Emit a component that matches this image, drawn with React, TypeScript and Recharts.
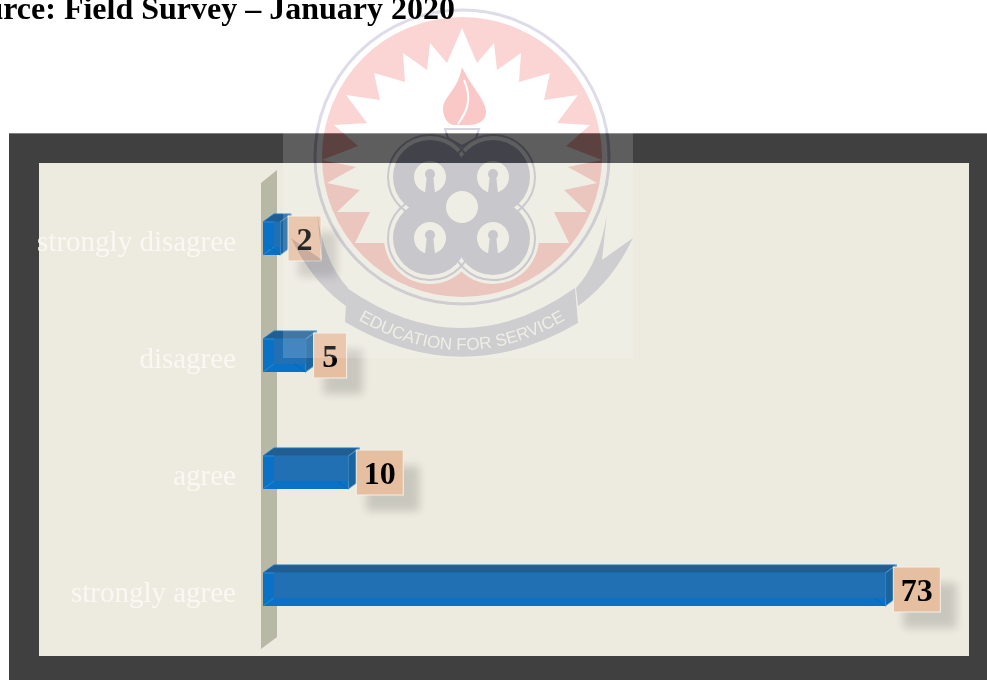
import { BarChart, Bar, XAxis, YAxis, LabelList } from "recharts";

const categories = ["strongly disagree", "disagree", "agree", "strongly agree"];
const values = [2, 5, 10, 73];
const rows = categories.map((name, i) => ({ name, value: values[i] }));

const SERIF = '"Liberation Serif", serif';
const DX = 11;
const DY = 8;

// half of the sunburst in the crest, mirrored around the centre
const STAR_HALF = [
  [462, 28], [447, 63], [430, 43], [427, 70], [403, 53], [405, 82], [374, 73], [380, 100],
  [346, 95], [367, 123], [334, 125], [358, 146], [322, 160], [356, 167], [327, 183], [360, 190],
  [337, 212], [370, 212], [355, 243],
];
const starPoints = [...STAR_HALF, ...[...STAR_HALF].reverse().map(([x, y]) => [924 - x, y])]
  .map((p) => p.join(","))
  .join(" ");
const LOBES = [
  [430, 177],
  [493, 177],
  [430, 238],
  [493, 238],
];

function Bar3D({ x, y, width, height }: any) {
  const w = width;
  const h = height;
  const backTop = y - DY;
  return (
    <g>
      <rect x={x + DX} y={backTop} width={w} height={h} fill="#1f5f98" />
      <polygon
        points={`${x},${y} ${x + DX},${backTop} ${x + w + DX},${backTop} ${x + w},${y}`}
        fill="#225d92"
        stroke="#0e78c8"
        strokeWidth={1}
      />
      <polygon
        points={`${x + w},${y} ${x + w + DX},${backTop} ${x + w + DX},${backTop + h} ${x + w},${y + h}`}
        fill="#1a649f"
        stroke="#5c9bc8"
        strokeWidth={1}
      />
      <rect x={x} y={y} width={w} height={h} fill="#0a72c6" />
      <rect x={x + DX} y={y} width={Math.max(w - DX, 0)} height={h - DY} fill="#2270b4" />
      <line x1={x} y1={y} x2={x + DX} y2={y} stroke="#2b8ad2" />
      <line x1={x} y1={y + h} x2={x + DX} y2={y + h - DY} stroke="#2b8ad2" />
      <line x1={x + w} y1={y + h} x2={x + w - DX} y2={y + h - DY} stroke="#0b64ad" />
    </g>
  );
}

function ValueTag({ x, y, width, height, value }: any) {
  const tagW = String(value).length > 1 ? 47 : 33;
  const tagH = 45;
  const left = x + width + 8;
  const cy = y + height / 2;
  return (
    <g>
      <defs>
        <filter id="tagBlur" x="-30%" y="-30%" width="160%" height="160%">
          <feGaussianBlur stdDeviation="4" />
        </filter>
      </defs>
      <rect
        x={left + 10}
        y={cy - tagH / 2 + 16}
        width={tagW + 6}
        height={tagH}
        fill="#000"
        opacity={0.15}
        filter="url(#tagBlur)"
      />
      <rect
        x={left}
        y={cy - tagH / 2}
        width={tagW}
        height={tagH}
        fill="#e6bea0"
        stroke="#f5f0e8"
        strokeWidth={1}
      />
      <text
        x={left + tagW / 2}
        y={cy + 11}
        textAnchor="middle"
        fontFamily={SERIF}
        fontWeight="bold"
        fontSize={32}
        fill="#000"
      >
        {value}
      </text>
    </g>
  );
}

function CategoryTick({ y, payload }: any) {
  return (
    <text x={236} y={y + 12} textAnchor="end" fontFamily={SERIF} fontSize={29} fill="#f9f8f3">
      {payload.value}
    </text>
  );
}

function Crest({ band }: { band?: boolean }) {
  return (
    <svg
      width={987}
      height={680}
      style={{
        position: "absolute",
        left: 0,
        top: 0,
        mixBlendMode: "multiply",
        pointerEvents: "none",
        // second pass over the dark frame strip, where the crest reads darker
        clipPath: band ? "inset(133px 0 517px 0)" : undefined,
      }}
    >
      <circle cx={462} cy={157} r={147} fill="none" stroke="#dcdcea" strokeWidth={3} />
      <circle cx={462} cy={157} r={140} fill="#fbd4d4" />
      <polygon points={starPoints} fill="#fff" />
      {LOBES.map(([cx, cy]) => (
        <circle key={`w${cx}${cy}`} cx={cx} cy={cy} r={46} fill="#fff" />
      ))}
      <path d="M462 67 C470 85 486 100 486 112 C486 122 476 125 468 125 L453 125 C446 123 443 116 443 108 C444 96 458 90 462 67 Z" fill="#fbc8c8" />
      <path d="M464 80 C472 98 468 110 458 124" fill="none" stroke="#fff" strokeWidth={2} />
      <path d="M445 129 L479 129 L476 138 L462 146 L448 138 Z" fill="none" stroke="#d4d4e2" strokeWidth={2} />
      {LOBES.map(([cx, cy]) => (
        <circle key={`r${cx}${cy}`} cx={cx} cy={cy} r={42} fill="none" stroke="#d8d8e6" strokeWidth={2} />
      ))}
      {LOBES.map(([cx, cy]) => (
        <circle key={`g${cx}${cy}`} cx={cx} cy={cy} r={37} fill="#d5d5e4" />
      ))}
      <circle cx={462} cy={207} r={16} fill="#fff" />
      {LOBES.map(([cx, cy]) => (
        <g key={`k${cx}${cy}`}>
          <circle cx={cx} cy={cy} r={16} fill="#fff" />
          <circle cx={cx} cy={cy - 3} r={5} fill="#d5d5e4" />
          <polygon points={`${cx - 3},${cy - 2} ${cx + 3},${cy - 2} ${cx + 5},${cy + 16} ${cx - 5},${cy + 16}`} fill="#d5d5e4" />
        </g>
      ))}
      <path d="M607 213 L602 260 L633 238 Q612 282 578 306 L576 288 Q600 262 607 213 Z" fill="#dcdce8" />
      <path d="M317 213 L322 260 L291 238 Q312 282 346 306 L348 288 Q324 262 317 213 Z" fill="#dcdce8" />
      <path d="M347 288 Q462 368 575 288 L578 323 Q462 391 345 322 Z" fill="#dcdce8" />
      <path id="crestMotto" d="M352 316 Q462 384 572 316" fill="none" />
      {!band && (
        <text fontFamily='"Liberation Sans", sans-serif' fontSize={17} fill="#fff">
          <textPath href="#crestMotto" startOffset="50%" textAnchor="middle">
            EDUCATION FOR SERVICE
          </textPath>
        </text>
      )}
    </svg>
  );
}

export default function App() {
  return (
    <div style={{ position: "absolute", left: 0, top: 0, width: 987, height: 680, background: "#fff", overflow: "hidden" }}>
      <div style={{ position: "absolute", left: 9, top: 133, width: 978, height: 547, background: "#404040", borderTop: "1px solid #808080", boxSizing: "border-box" }} />
      <div style={{ position: "absolute", left: 39, top: 163, width: 930, height: 493, background: "#edebe0" }} />
      <svg width={987} height={680} style={{ position: "absolute", left: 0, top: 0 }}>
        <polygon points="261,183 277,170 277,637 261,649" fill="#b8b8a6" />
      </svg>
      <div style={{ position: "absolute", left: 0, top: 0 }}>
        <BarChart
          width={987}
          height={680}
          data={rows}
          layout="vertical"
          margin={{ left: 43, right: 42, top: 180, bottom: 32 }}
          barCategoryGap={0}
        >
          <XAxis type="number" hide domain={[0, 80]} />
          <YAxis type="category" dataKey="name" width={220} axisLine={false} tickLine={false} tick={<CategoryTick />} interval={0} />
          <Bar dataKey="value" barSize={33} shape={<Bar3D />} isAnimationActive={false}>
            <LabelList dataKey="value" content={<ValueTag />} />
          </Bar>
        </BarChart>
      </div>
      <div
        style={{
          position: "absolute",
          right: 987 - 455,
          top: -10,
          whiteSpace: "nowrap",
          fontFamily: SERIF,
          fontWeight: "bold",
          fontSize: 32,
          color: "#000",
        }}
      >
        Source: Field Survey – January 2020
      </div>
      <div style={{ position: "absolute", left: 283, top: 133, width: 350, height: 225, background: "rgba(255,255,255,0.157)" }} />
      <Crest />
      <Crest band />
    </div>
  );
}
